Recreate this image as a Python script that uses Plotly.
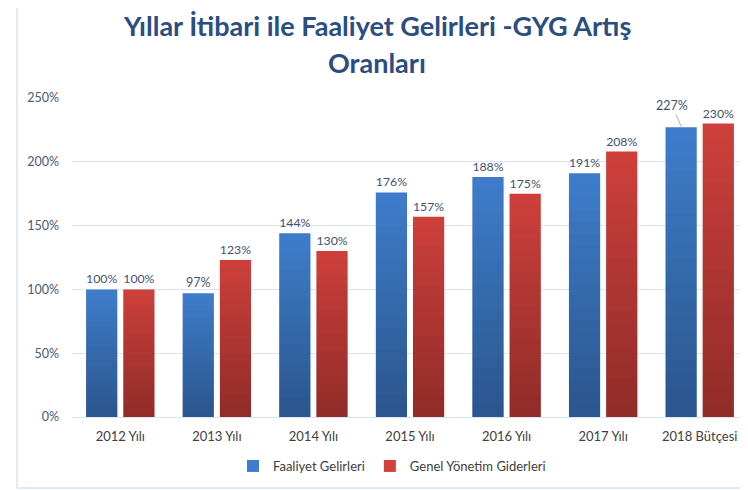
import plotly.graph_objects as go

categories = ["2012 Yılı", "2013 Yılı", "2014 Yılı", "2015 Yılı", "2016 Yılı", "2017 Yılı", "2018 Bütçesi"]
faaliyet = [100, 97, 144, 176, 188, 191, 227]
gyg = [100, 123, 130, 157, 175, 208, 230]
series_names = ["Faaliyet Gelirleri", "Genel Yönetim Giderleri"]
tick_vals = [0, 50, 100, 150, 200, 250]
tick_text = ["0%", "50%", "100%", "150%", "200%", "250%"]

FONT = "Lato, 'Open Sans', sans-serif"
BODY = 8  # default page margin of the html body
W, H = 748 - BODY, 490 - BODY
ML, MR, MT, MB = 72 - BODY, 0, 98 - BODY, 73
PW, PH = W - ML - MR, H - MT - MB

def px_x(x):  # page pixel -> paper
    return (x - BODY - ML) / PW

def px_y(y):
    return (H - MB - (y - BODY)) / PH

BLUE_TOP, RED_TOP = "#3F7ECF", "#D2413C"
LABEL_C = "#3F5370"
N_SHADE = 20

fig = go.Figure()
for name, vals, col, grp in [(series_names[0], faaliyet, BLUE_TOP, "a"),
                             (series_names[1], gyg, RED_TOP, "b")]:
    labels = [f"{v}%" for v in vals]
    if grp == "a":
        labels[-1] = ""
    fig.add_trace(go.Bar(
        x=categories, y=vals, name=name, offsetgroup=grp,
        marker=dict(color=col, line=dict(width=0)),
        text=labels, textposition="outside",
        textfont=dict(family=FONT, size=12.5, color=LABEL_C),
        cliponaxis=False,
    ))
    # vertical shading (lighter at top, darker at bottom) as overlaid bars
    for k in range(1, N_SHADE + 1):
        fig.add_trace(go.Bar(
            x=categories, y=[v * k / N_SHADE for v in vals], offsetgroup=grp,
            marker=dict(color="rgba(0,0,0,0.015)", line=dict(width=0)),
            showlegend=False, hoverinfo="skip",
        ))

fig.update_layout(
    width=W, height=H,
    margin=dict(l=ML, r=MR, t=MT, b=MB, autoexpand=False),
    paper_bgcolor="white", plot_bgcolor="white",
    barmode="group", bargap=0.23, bargroupgap=0.16,
    font=dict(family=FONT, size=13, color="#404040"),
    showlegend=True,
    legend=dict(orientation="h", x=px_x(233), xanchor="left", y=px_y(466), yanchor="middle",
                font=dict(family=FONT, size=13, color="#404040"),
                itemwidth=30, traceorder="normal"),
    xaxis=dict(showgrid=False, showline=False, ticks="", ticklabelstandoff=10,
               tickfont=dict(family=FONT, size=13, color="#404040")),
    yaxis=dict(range=[0, 250], tickvals=tick_vals, ticktext=tick_text,
               showgrid=True, gridcolor="#D9E5F3", gridwidth=1,
               zeroline=True, zerolinecolor="#D9E5F3", zerolinewidth=1,
               showline=False, ticks="", ticklabelstandoff=12,
               tickfont=dict(family=FONT, size=12.5, color="#4A5A78")),
    annotations=[
        dict(text="<b>Yıllar İtibari ile Faaliyet Gelirleri -GYG Artış</b>",
             xref="paper", yref="paper", x=px_x(377), y=px_y(25),
             xanchor="center", yanchor="middle", showarrow=False,
             font=dict(family=FONT, size=27, color="#2A4E82")),
        dict(text="<b>Oranları</b>",
             xref="paper", yref="paper", x=px_x(377), y=px_y(63),
             xanchor="center", yanchor="middle", showarrow=False,
             font=dict(family=FONT, size=27, color="#2A4E82")),
        dict(text=f"{faaliyet[-1]}%", x=categories[-1], y=faaliyet[-1], xref="x", yref="y",
             xshift=-18, showarrow=True, arrowhead=0, arrowwidth=1, arrowcolor="#9DB9DE",
             ax=-10, ay=-22, standoff=0,
             font=dict(family=FONT, size=12.5, color=LABEL_C)),
    ],
    shapes=[
        dict(type="line", xref="paper", yref="paper", x0=px_x(17), x1=px_x(17),
             y0=px_y(0), y1=px_y(488), line=dict(color="#D6E3F3", width=1.5)),
        dict(type="line", xref="paper", yref="paper", x0=px_x(17), x1=px_x(748),
             y0=px_y(488), y1=px_y(488), line=dict(color="#D6E3F3", width=1.5)),
    ],
)

fig.write_html("out.html")
